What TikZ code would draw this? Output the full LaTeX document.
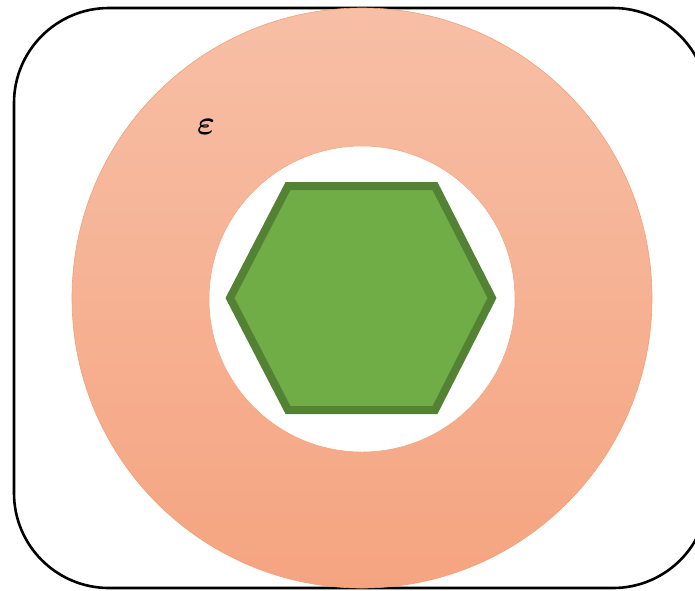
\documentclass[tikz,border=0pt]{standalone}
\usepackage{amsmath}
\usetikzlibrary{shapes.geometric}
\definecolor{ringtop}{RGB}{247,191,166}
\definecolor{ringbot}{RGB}{245,164,128}
\definecolor{ringedge}{RGB}{244,160,120}
\definecolor{hexfill}{RGB}{112,173,71}
\definecolor{hexedge}{RGB}{84,130,53}
\tikzset{
  frame/.style={draw=black, line width=2.6pt, rounded corners=95pt},
  hexstyle/.style={fill=hexfill, draw=hexedge, line width=8pt, line join=miter},
}
\begin{document}
\begin{tikzpicture}[x=1pt,y=-1pt]
\useasboundingbox (0,0) rectangle (695,590);
\begin{scope}
\clip (0,0) rectangle (695,590);
\draw[frame] (14,8) rectangle (708,588);
\shade[top color=ringtop, bottom color=ringbot, draw=ringedge, line width=0.6pt] (362,298) circle[radius=290];
\fill[white] (362,299) circle[radius=153];
\draw[ringedge, line width=0.5pt] (362,299) circle[radius=153];
\end{scope}
\draw[hexstyle] (230,298) -- (288,186) -- (435,186) -- (492,298) -- (435,410) -- (288,410) -- cycle;
\node[scale=3.4, text=black, inner sep=0pt] (eps) at (206,127) {$\boldsymbol{\varepsilon}$};
\end{tikzpicture}
\end{document}
